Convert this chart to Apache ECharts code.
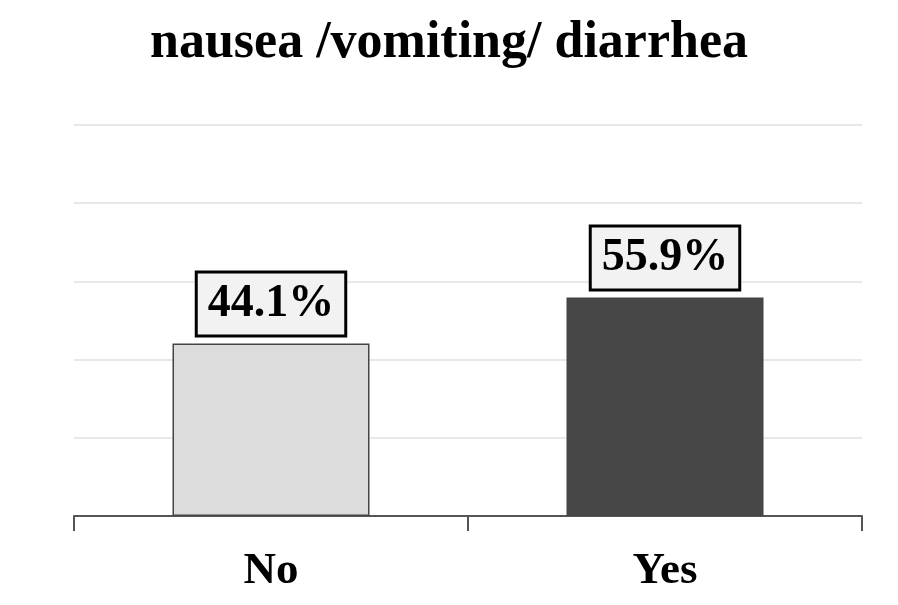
<!DOCTYPE html>
<html>
<head>
<meta charset="utf-8">
<script src="https://cdn.jsdelivr.net/npm/echarts@6/dist/echarts.min.js"></script>
<style>
  html, body { margin: 0; padding: 0; background: #fff; }
  #main { width: 898px; height: 605px; }
</style>
</head>
<body>
<div id="main"></div>
<script>
var categories = ['No', 'Yes'];
var values = [44.1, 55.9];
var barColors = ['#dcdcdc', '#474747'];

var myChart = echarts.init(document.getElementById('main'));

var serif = '"Liberation Serif", "Times New Roman", serif';

var option = {
  animation: false,
  title: {
    text: 'nausea /vomiting/ diarrhea',
    left: 'center',
    top: 13,
    textStyle: {
      fontFamily: serif,
      fontWeight: 'bold',
      fontSize: 52,
      color: '#000'
    }
  },
  grid: { left: 74, right: 36, top: 125, bottom: 89 },
  xAxis: {
    type: 'category',
    data: categories,
    axisLine: { lineStyle: { color: '#555', width: 2 } },
    axisTick: { show: true, length: 15, lineStyle: { color: '#555', width: 2 } },
    axisLabel: {
      margin: 33,
      fontFamily: serif,
      fontWeight: 'bold',
      fontSize: 45,
      color: '#000'
    }
  },
  yAxis: {
    type: 'value',
    min: 0,
    max: 100,
    interval: 20,
    axisLabel: { show: false },
    axisLine: { show: false },
    axisTick: { show: false },
    splitLine: { lineStyle: { color: '#e8e8e8', width: 2 } }
  },
  series: [{
    type: 'bar',
    barWidth: '50%',
    data: values.map(function (v, i) {
      return {
        value: v,
        itemStyle: { color: barColors[i], borderColor: '#444', borderWidth: 1.5 }
      };
    }),
    label: {
      show: true,
      position: 'top',
      distance: 9,
      formatter: function (p) { return p.value.toFixed(1) + '%'; },
      fontFamily: serif,
      fontWeight: 'bold',
      fontSize: 46,
      color: '#000',
      lineHeight: 45,
      backgroundColor: '#f2f2f2',
      borderColor: '#000',
      borderWidth: 3,
      padding: [8, 10]
    }
  }]
};

myChart.setOption(option);
</script>
</body>
</html>
